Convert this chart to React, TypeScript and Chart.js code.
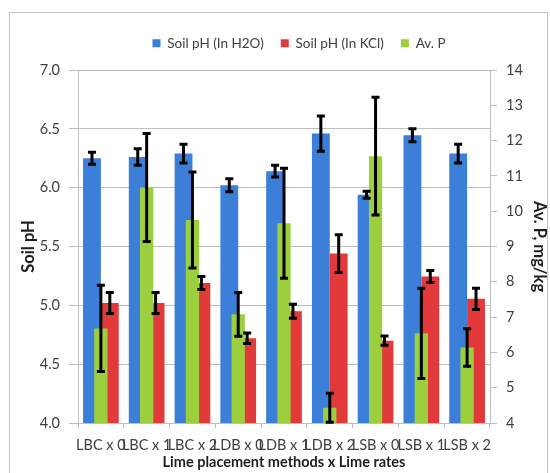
import { useEffect, useRef } from 'react';
import { Chart, registerables } from 'chart.js';

Chart.register(...registerables);

// ---- data ----
const categories = ['LBC x 0', 'LBC x 1', 'LBC x 2', 'LDB x 0', 'LDB x 1', 'LDB x 2', 'LSB x 0', 'LSB x 1', 'LSB x 2'];
const phH2O = [6.25, 6.26, 6.29, 6.02, 6.14, 6.46, 5.94, 6.445, 6.29];
const phH2OErr = [0.05, 0.07, 0.08, 0.055, 0.05, 0.15, 0.03, 0.055, 0.08];
const phKCl = [5.02, 5.02, 5.19, 4.72, 4.95, 5.44, 4.7, 5.245, 5.055];
const phKClErr = [0.09, 0.09, 0.055, 0.045, 0.06, 0.16, 0.04, 0.05, 0.09];
const avP = [6.68, 10.67, 9.75, 7.08, 9.66, 4.43, 11.56, 6.54, 6.14];
const avPErr = [1.22, 1.53, 1.36, 0.62, 1.56, 0.41, 1.67, 1.28, 0.53];
const seriesLabels = ['Soil pH (In H2O)', 'Soil pH (In KCl)', 'Av. P'];
const axisTitles = { x: 'Lime placement methods x Lime rates', y: 'Soil pH', y1: 'Av. P, mg/kg' };

// ---- style ----
const FONT = 'Lato, "Open Sans", sans-serif';
const BLUE = '#3c7fd9';
const RED = '#e23a3a';
const GREEN = '#9ccf3e';
const GRID = '#bebebe';
const TXT = '#404040';
const TITLE = '#1e1e1e';

const errorSets = [phH2OErr, phKClErr, avPErr];

const errorBarsPlugin = {
  id: 'errorBars',
  afterDatasetsDraw(chart: any) {
    const ctx = chart.ctx;
    chart.data.datasets.forEach((ds: any, i: number) => {
      const errs = errorSets[i];
      if (!errs) return;
      const meta = chart.getDatasetMeta(i);
      const ys = chart.scales[meta.yAxisID];
      meta.data.forEach((el: any, j: number) => {
        const v = ds.data[j];
        const e = errs[j];
        const x = el.x;
        const top = ys.getPixelForValue(v + e);
        const bot = ys.getPixelForValue(v - e);
        ctx.save();
        ctx.strokeStyle = '#000';
        ctx.lineWidth = 3;
        ctx.beginPath();
        ctx.moveTo(x, top);
        ctx.lineTo(x, bot);
        ctx.moveTo(x - 4, top);
        ctx.lineTo(x + 4, top);
        ctx.moveTo(x - 4, bot);
        ctx.lineTo(x + 4, bot);
        ctx.stroke();
        ctx.restore();
      });
    });
  },
};

const LEGEND_EXTRA = 10;
const LEGEND_SHIFT = 19;
const legendTweakPlugin = {
  id: 'legendTweak',
  beforeLayout(chart: any) {
    const lg = chart.legend;
    if (lg && !lg.__patched) {
      const orig = lg.fit.bind(lg);
      lg.fit = () => {
        orig();
        lg.height += LEGEND_EXTRA;
      };
      lg.__patched = true;
    }
  },
  afterLayout(chart: any) {
    const lg = chart.legend;
    if (lg) {
      lg.left += LEGEND_SHIFT;
      lg.right += LEGEND_SHIFT;
    }
  },
};

const frameBorderPlugin = {
  id: 'frameBorder',
  beforeDraw(chart: any) {
    const ctx = chart.ctx;
    ctx.save();
    ctx.fillStyle = '#ffffff';
    ctx.fillRect(0, 0, chart.width, chart.height);
    ctx.strokeStyle = '#c4c4c4';
    ctx.lineWidth = 1;
    ctx.strokeRect(9.5, 12.5, 538, 520);
    ctx.restore();
  },
};

export default function App() {
  const ref = useRef<HTMLCanvasElement>(null);

  useEffect(() => {
    if (!ref.current) return;
    const tickFont = { family: FONT, size: 14.5 };
    const titleFontBig = { family: FONT, size: 16.5, weight: 'bold' as const };
    const chart = new Chart(ref.current, {
      type: 'bar',
      data: {
        labels: categories,
        datasets: [
          {
            label: seriesLabels[0],
            data: phH2O,
            backgroundColor: BLUE,
            yAxisID: 'y',
            categoryPercentage: 0.78,
            barPercentage: 1,
            grouped: true,
            order: 1,
          },
          {
            label: seriesLabels[1],
            data: phKCl,
            backgroundColor: RED,
            yAxisID: 'y',
            categoryPercentage: 0.78,
            barPercentage: 1,
            grouped: true,
            order: 1,
          },
          {
            label: seriesLabels[2],
            data: avP,
            backgroundColor: GREEN,
            yAxisID: 'y1',
            categoryPercentage: 0.29,
            barPercentage: 1,
            grouped: false,
            order: 0,
          },
        ],
      },
      options: {
        responsive: false,
        animation: false,
        layout: { padding: { left: 10, right: 0, top: 19.5, bottom: 0 } },
        plugins: {
          legend: {
            position: 'top',
            labels: {
              boxWidth: 8,
              boxHeight: 8,
              padding: 17,
              color: TXT,
              font: { family: FONT, size: 13.5 },
              sort: (a: any, b: any) => a.datasetIndex - b.datasetIndex,
            },
          },
          tooltip: { enabled: false },
        },
        scales: {
          x: {
            type: 'category',
            position: 'bottom',
            offset: true,
            grid: { offset: true, drawOnChartArea: false, drawTicks: true, tickLength: 5, color: GRID },
            border: { color: GRID },
            ticks: { autoSkip: false, maxRotation: 0, minRotation: 0, padding: 9, color: TXT, font: tickFont },
            title: {
              display: true,
              text: axisTitles.x,
              color: TITLE,
              font: { family: FONT, size: 14.5, weight: 'bold' },
              padding: { top: 0, bottom: 2 },
            },
            afterFit: (s: any) => {
              s.height = 50;
            },
          },
          y: {
            position: 'left',
            min: 4,
            max: 7,
            ticks: {
              stepSize: 0.5,
              padding: 9,
              color: TXT,
              font: tickFont,
              callback: (v: any) => Number(v).toFixed(1),
            },
            grid: { color: GRID, tickLength: 9 },
            border: { color: GRID },
            title: { display: true, text: axisTitles.y, color: TITLE, font: titleFontBig, padding: { top: 9, bottom: 0 } },
            afterFit: (s: any) => {
              s.width = 68;
            },
          },
          y1: {
            position: 'right',
            min: 4,
            max: 14,
            ticks: { stepSize: 1, padding: 9, color: TXT, font: tickFont },
            grid: { drawOnChartArea: false, tickLength: 7, color: GRID },
            border: { color: GRID },
            title: { display: true, text: axisTitles.y1, color: TITLE, font: titleFontBig, padding: { top: 1, bottom: 0 } },
            afterFit: (s: any) => {
              s.width = 60;
            },
          },
        },
      },
      plugins: [frameBorderPlugin, legendTweakPlugin, errorBarsPlugin],
    });
    return () => chart.destroy();
  }, []);

  return (
    <div style={{ position: 'fixed', left: 0, top: 0, width: 550, height: 473, background: '#fff' }}>
      <canvas ref={ref} width={550} height={473} style={{ display: 'block' }} />
    </div>
  );
}
